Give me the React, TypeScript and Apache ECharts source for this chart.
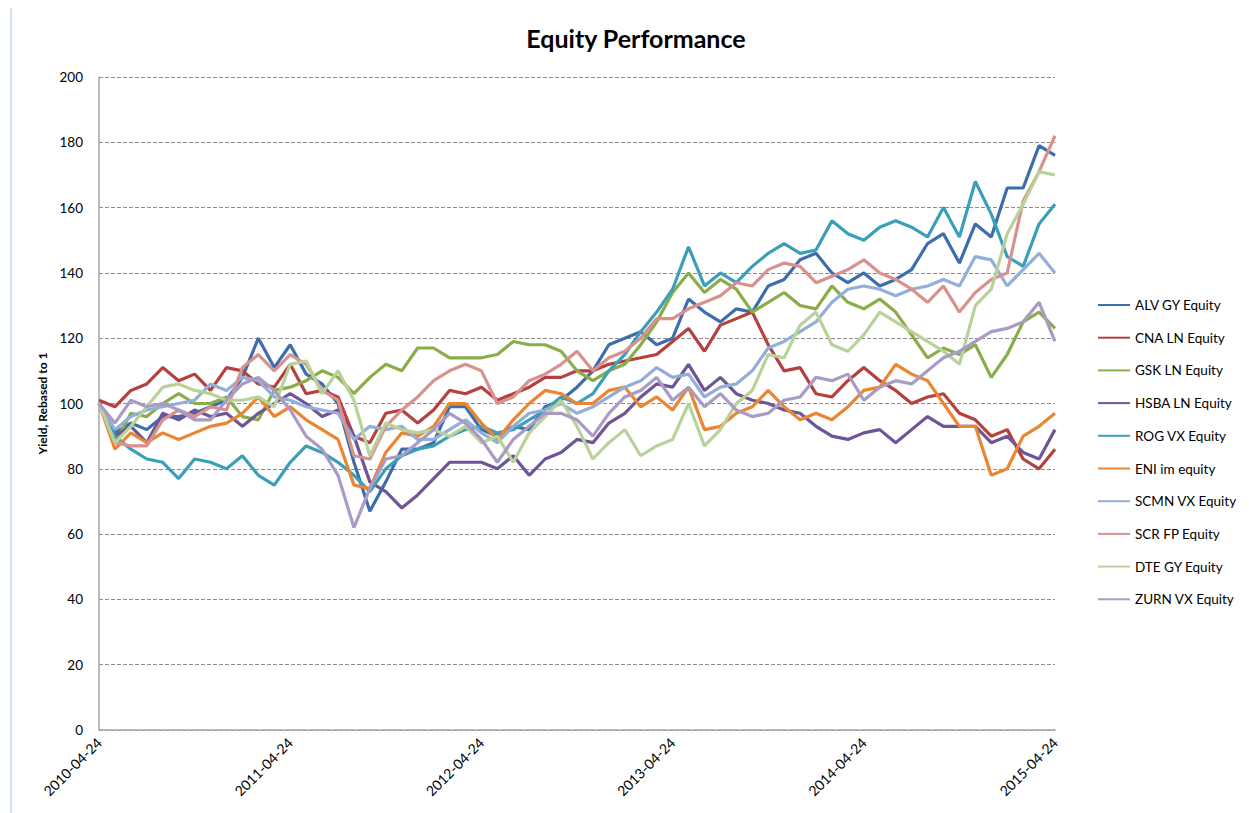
import React, { useEffect, useRef } from "react";
import * as echarts from "echarts";

// x positions are months since 2010-04-24 (0..60)
const yearTickLabels = ["2010-04-24", "2011-04-24", "2012-04-24", "2013-04-24", "2014-04-24", "2015-04-24"];

const seriesNames = [
  "ALV GY Equity",
  "CNA LN Equity",
  "GSK LN Equity",
  "HSBA LN Equity",
  "ROG VX Equity",
  "ENI im equity",
  "SCMN VX Equity",
  "SCR FP Equity",
  "DTE GY Equity",
  "ZURN VX Equity",
];

const seriesColors = ["#3d6eab", "#b5403d", "#8aad4a", "#6f5597", "#3b9fb8", "#ea8632", "#93afd9", "#d9918e", "#b9d29a", "#a99bc5"];

const ALV = [100,91,94,92,96,96,97,99,101,108,120,111,118,109,106,100,82,67,76,86,86,88,99,99,92,90,93,92,99,101,105,110,118,120,122,118,120,132,128,125,129,128,136,138,144,146,140,137,140,136,138,141,149,152,143,155,151,166,166,179,176];
const CNA = [101,99,104,106,111,107,109,104,111,110,106,105,112,103,104,102,90,88,97,98,94,98,104,103,105,101,103,105,108,108,110,110,112,113,114,115,119,123,116,124,126,128,118,110,111,103,102,107,111,107,104,100,102,103,97,95,90,92,83,80,86];
const GSK = [100,88,97,96,100,103,100,100,102,96,95,104,105,107,110,108,103,108,112,110,117,117,114,114,114,115,119,118,118,116,110,107,110,112,118,125,134,140,134,138,135,128,131,134,130,129,136,131,129,132,128,121,114,117,115,118,108,115,125,128,123];
const HSBA = [100,90,93,88,97,95,98,96,97,93,97,100,103,100,96,98,90,76,73,68,72,77,82,82,82,80,84,78,83,85,89,88,94,97,102,106,105,112,104,108,103,101,100,98,97,93,90,89,91,92,88,92,96,93,93,93,88,90,85,83,92];
const ROG = [100,90,86,83,82,77,83,82,80,84,78,75,82,87,85,82,78,73,80,84,86,87,90,92,93,91,92,95,98,102,100,103,110,115,122,128,135,148,136,140,137,142,146,149,146,147,156,152,150,154,156,154,151,160,151,168,158,145,142,155,161];
const ENI = [100,86,91,88,91,89,91,93,94,97,102,96,99,95,92,89,75,74,85,91,90,93,100,100,94,89,95,100,104,103,100,100,104,105,99,102,98,105,92,93,97,99,104,99,95,97,95,99,104,105,112,109,107,100,93,93,78,80,90,93,97];
const SCMN = [100,92,96,98,99,100,101,106,104,108,107,102,101,99,98,97,89,93,92,93,89,89,92,95,91,88,93,97,98,100,97,99,102,105,107,111,108,109,102,105,106,110,117,119,122,125,131,135,136,135,133,135,136,138,136,145,144,136,141,146,140];
const SCR = [100,88,87,87,95,98,96,99,98,111,115,110,115,112,104,101,84,83,93,98,102,107,110,112,110,100,102,107,109,112,116,110,114,116,120,126,126,129,131,133,137,136,141,143,142,137,139,141,144,140,138,135,131,136,128,134,138,140,162,171,182];
const DTE = [100,88,93,99,105,106,104,103,101,101,102,99,112,113,103,110,101,84,94,92,91,92,90,93,88,90,82,91,96,101,93,83,88,92,84,87,89,100,87,92,100,104,115,114,124,128,118,116,121,128,125,122,119,116,112,130,135,152,161,171,170];
const ZURN = [100,94,101,99,100,98,95,95,101,106,108,104,98,90,86,78,62,74,83,84,88,92,97,94,89,82,89,93,97,97,95,90,97,102,104,108,101,105,99,103,98,96,97,101,102,108,107,109,101,105,107,106,110,114,116,119,122,123,125,131,119];

const seriesValues = [ALV, CNA, GSK, HSBA, ROG, ENI, SCMN, SCR, DTE, ZURN];

const FONT = "Lato, 'Liberation Sans', Arial, sans-serif";

export default function App() {
  const ref = useRef<HTMLDivElement>(null);
  useEffect(() => {
    if (!ref.current) return;
    const chart = echarts.init(ref.current, undefined, { renderer: "svg" });
    const series = seriesNames.map((name, i) => ({
      name,
      type: "line",
      symbol: "none",
      showSymbol: false,
      data: seriesValues[i].map((v, m) => [m, v]),
      lineStyle: { width: 3.2, color: seriesColors[i] },
      itemStyle: { color: seriesColors[i] },
    }));
    chart.setOption({
      animation: false,
      backgroundColor: "#ffffff",
      textStyle: { fontFamily: FONT },
      grid: { left: 99, right: 194, top: 77, bottom: 83, containLabel: false },
      graphic: [
        {
          type: "line",
          shape: { x1: 11, y1: 8, x2: 11, y2: 813 },
          style: { stroke: "#aac6ee", lineWidth: 1 },
        },
        {
          type: "text",
          x: 636,
          y: 38,
          style: {
            text: "Equity Performance",
            fontSize: 25,
            fontWeight: "bold",
            fontFamily: FONT,
            fill: "#000",
            align: "center",
            verticalAlign: "middle",
          },
        },
      ],
      legend: {
        orient: "vertical",
        left: 1093,
        top: 293,
        itemWidth: 32,
        itemHeight: 12,
        itemGap: 18.7,
        data: seriesNames.map((n, i) => ({ name: n, itemStyle: { color: seriesColors[i] }, icon: "path://M0,5H32V7H0Z" })),
        textStyle: { fontSize: 13.5, color: "#000", fontFamily: FONT },
      },
      xAxis: {
        type: "value",
        min: 0,
        max: 60,
        interval: 12,
        axisLine: { show: true, lineStyle: { color: "#a6a6a6", width: 1.5 } },
        axisTick: { show: false },
        splitLine: { show: false },
        axisLabel: {
          rotate: 45,
          margin: 10,
          fontSize: 14,
          color: "#000",
          fontFamily: FONT,
          formatter: (v: number) => yearTickLabels[Math.round(v / 12)] ?? "",
        },
      },
      yAxis: {
        type: "value",
        min: 0,
        max: 200,
        interval: 20,
        name: "Yield, Rebased to 1",
        nameLocation: "middle",
        nameGap: 50,
        nameTextStyle: { fontSize: 12, fontWeight: "bold", color: "#000", fontFamily: FONT },
        axisLine: { show: true, lineStyle: { color: "#a6a6a6", width: 1.5 } },
        axisTick: { show: false },
        splitLine: { show: true, lineStyle: { color: "#8c8c8c", type: "dashed", width: 1 } },
        axisLabel: { fontSize: 13.5, color: "#000", margin: 16, fontFamily: FONT },
      },
      series,
    });
    return () => chart.dispose();
  }, []);
  return (
    <div
      ref={ref}
      style={{ position: "fixed", left: 0, top: 0, width: 1249, height: 813, background: "#fff" }}
    />
  );
}
